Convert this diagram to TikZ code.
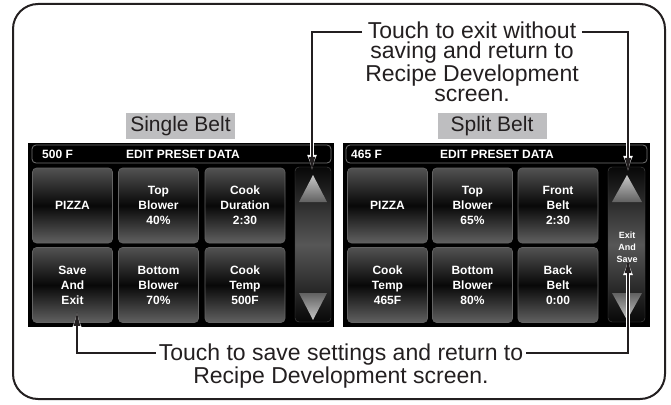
\documentclass[tikz,border=0pt]{standalone}
\usepackage{fontspec}
\setmainfont{Liberation Sans}
\usepackage{tikz}
\usetikzlibrary{arrows.meta, positioning, calc}
\definecolor{inkgray}{RGB}{35,31,32}
\definecolor{tabgray}{RGB}{190,190,192}
\definecolor{keyrim}{RGB}{100,100,100}

\begin{document}
\begin{tikzpicture}[
    x=1pt, y=-1pt,
    screen/.style={fill=black, draw=none, minimum height=184pt, inner sep=0pt},
    keybtn/.style={draw=keyrim, line width=0.6pt, rounded corners=4pt, top color=black!68, bottom color=black!62, middle color=black!97, minimum width=80pt, minimum height=75pt, inner sep=0pt, text=white, align=center, font=\fontsize{12}{15}\selectfont\bfseries},
    scrollbar/.style={draw=black!70, rounded corners=4pt, top color=black!97, bottom color=black!97, middle color=black!66, minimum height=155pt, inner sep=0pt},
    tab/.style={fill=tabgray, minimum width=109pt, minimum height=26pt, inner sep=0pt, text=inkgray, font=\fontsize{21}{24}\selectfont},
    head/.style={text=white, inner sep=0pt, font=\fontsize{12}{14}\selectfont\bfseries},
    note/.style={text=inkgray, align=center, inner ysep=0pt, inner xsep=3pt, font=\fontsize{23}{20}\selectfont},
    callout/.style={draw=inkgray, line width=1.8pt, -{Latex[length=15pt,width=7pt]}, preaction={draw=white, line width=3.8pt, -{Latex[length=17pt,width=10pt]}}}
]
    \useasboundingbox (0,0) rectangle (671,404);

    % Frame
    \draw[inkgray, line width=2pt, rounded corners=25pt] (13,4) rectangle (665,399);

    % Tabs
    \node[tab] (sbTab) at (180.5,126) {Single Belt};
    \node[tab] (spTab) at (492,126) {Split Belt};

    % Screens
    \node[screen, minimum width=306pt] (sbScreen) at (181,235) {};
    \node[screen, minimum width=307pt] (spScreen) at (496.5,235) {};

    % Header bars
    \draw[black!55, line width=0.8pt, rounded corners=4pt] (32,145) rectangle (331,163);
    \node[head, anchor=west] (sbTemp) at (42,154.5) {500 F};
    \node[head] (sbTitle) at (183,154.5) {EDIT PRESET DATA};

    \draw[black!55, line width=0.8pt, rounded corners=4pt] (346,145) rectangle (647,163);
    \node[head, anchor=west] (spTemp) at (351,154.5) {465 F};
    \node[head] (spTitle) at (497,154.5) {EDIT PRESET DATA};

    % Single belt keys
    \node[keybtn] (sbPizza) at (72.5,205.5) {PIZZA};
    \node[keybtn] (sbTop) at (158.5,205.5) {Top\\Blower\\40\%};
    \node[keybtn] (sbCook) at (245,205.5) {Cook\\Duration\\2:30};
    \node[keybtn] (sbSave) at (72.5,285) {Save\\And\\Exit};
    \node[keybtn] (sbBottom) at (158.5,285) {Bottom\\Blower\\70\%};
    \node[keybtn] (sbHeat) at (245,285) {Cook\\Temp\\500F};

    % Split belt keys
    \node[keybtn] (spPizza) at (387.5,205.5) {PIZZA};
    \node[keybtn] (spTop) at (472.5,205.5) {Top\\Blower\\65\%};
    \node[keybtn] (spFront) at (558,205.5) {Front\\Belt\\2:30};
    \node[keybtn] (spHeat) at (387.5,285) {Cook\\Temp\\465F};
    \node[keybtn] (spBottom) at (472.5,285) {Bottom\\Blower\\80\%};
    \node[keybtn] (spBack) at (558,285) {Back\\Belt\\0:00};

    % Scroll bars
    \node[scrollbar, minimum width=36pt] (sbScroll) at (313,244.5) {};
    \shade[top color=black!22, bottom color=black!62] (299,202) -- (313,175) -- (327,202) -- cycle;
    \shade[top color=black!62, bottom color=black!22] (299,293) -- (313,320) -- (327,293) -- cycle;

    \node[scrollbar, minimum width=37pt] (spScroll) at (626.5,244.5) {};
    \shade[top color=black!22, bottom color=black!62] (612,202) -- (627,175) -- (642,202) -- cycle;
    \shade[top color=black!62, bottom color=black!22] (612,293) -- (627,320) -- (642,293) -- cycle;
    \node[text=white, align=center, inner sep=0pt, font=\fontsize{9}{12}\selectfont\bfseries] (spExit) at (627,247) {Exit\\And\\Save};

    % Notes
    \node[note, anchor=north] (exitNote) at (472,22) {Touch to exit without\\saving and return to\\Recipe Development\\screen.};
    \node[note, anchor=north] (saveNote) at (341,344) {Touch to save settings and return to\\Recipe Development screen.};

    % Arrow tips
    \coordinate (sbUpTip) at ([xshift=-1pt,yshift=-5pt]sbScroll.north);
    \coordinate (spUpTip) at ([xshift=1.5pt,yshift=-6pt]spScroll.north);
    \coordinate (sbSaveTip) at ([xshift=4.5pt,yshift=12pt]sbSave.south);
    \coordinate (spSaveTip) at ([xshift=1.5pt,yshift=-13.5pt]spScroll.center);

    % Callouts
    \draw[callout] ([yshift=-10pt]exitNote.north west) -| (sbUpTip);
    \draw[callout] ([yshift=-10pt]exitNote.north east) -| (spUpTip);
    \draw[callout] ([yshift=-8.7pt]saveNote.north west) -| (sbSaveTip);
    \draw[callout] ([yshift=-8.7pt]saveNote.north east) -| (spSaveTip);
\end{tikzpicture}
\end{document}
